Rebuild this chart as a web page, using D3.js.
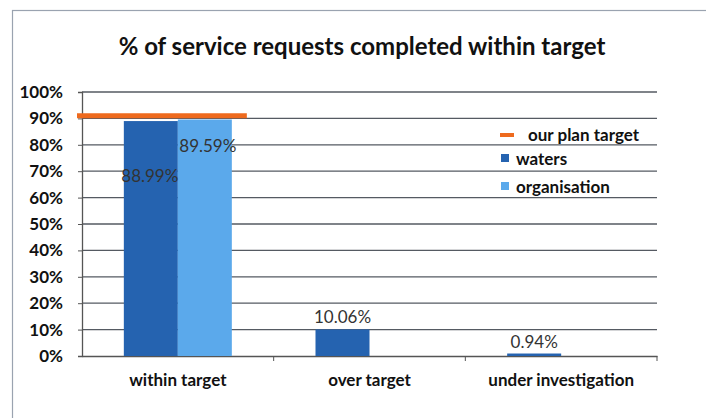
<!DOCTYPE html>
<html><head><meta charset="utf-8">
<script src="https://cdn.jsdelivr.net/npm/d3@7"></script>
<style>body{margin:0;background:#fff}svg{display:block}</style>
</head><body>
<script>
const categories = ["within target","over target","under investigation"];
const seriesNames = ["waters","organisation"];
const waters = [0.8899, 0.1006, 0.0094];
const organisation = [0.8959, null, null];
const planTarget = 0.91;
const yTicks = [0,0.1,0.2,0.3,0.4,0.5,0.6,0.7,0.8,0.9,1.0];
const labels = {waters:["88.99%","10.06%","0.94%"], organisation:["89.59%",null,null]};

const W=706,H=418;
const svg=d3.select("body").append("svg").attr("width",W).attr("height",H);
const colors={waters:"#2563b0",organisation:"#5ba9eb"};
const font="Lato, 'Open Sans', sans-serif";

// frame
svg.append("rect").attr("x",12.5).attr("y",10.5).attr("width",W).attr("height",H)
  .attr("fill","none").attr("stroke","#9aa3b0").attr("stroke-width",1.2);

const m={l:82,r:657,t:92,b:356};
const x=d3.scaleBand().domain(categories).range([m.l,m.r]);
const y=d3.scaleLinear().domain([0,1]).range([m.b,m.t]);
const x1=d3.scaleBand().domain(seriesNames).range([0,108]);

svg.append("text").attr("x",362).attr("y",55).attr("text-anchor","middle")
  .attr("font-family",font).attr("font-weight",700).attr("font-size",24).attr("fill","#111")
  .text("% of service requests completed within target");

// gridlines
svg.append("g").selectAll("line").data(yTicks.slice(1)).join("line")
  .attr("x1",m.l).attr("x2",m.r).attr("y1",d=>y(d)).attr("y2",d=>y(d))
  .attr("stroke","#555a62").attr("stroke-width",1.3);

// y axis
const ya=svg.append("g").attr("transform",`translate(${m.l},0)`)
  .call(d3.axisLeft(y).tickValues(yTicks).tickFormat(d3.format(".0%")).tickSize(4).tickPadding(15));
ya.select(".domain").attr("stroke","#555").attr("stroke-width",1.3);
ya.selectAll("line").attr("stroke","#555");
ya.selectAll("text").attr("font-family",font).attr("font-weight",700).attr("font-size",17).attr("fill","#111");

// x axis
const xa=svg.append("g").attr("transform",`translate(0,${m.b})`)
  .call(d3.axisBottom(x).tickSize(0).tickPadding(18));
xa.select(".domain").attr("stroke","#555").attr("stroke-width",1.3);
xa.selectAll("text").attr("font-family",font).attr("font-weight",700).attr("font-size",17).attr("fill","#111");
svg.append("g").selectAll("line").data(categories.slice(1).concat([null])).join("line")
  .attr("x1",d=>d?x(d):m.r).attr("x2",d=>d?x(d):m.r).attr("y1",m.b).attr("y2",m.b+5)
  .attr("stroke","#555");

// bars
const data=[];
categories.forEach((c,i)=>{
  data.push({c,s:"waters",v:waters[i],l:labels.waters[i]});
  if(organisation[i]!=null) data.push({c,s:"organisation",v:organisation[i],l:labels.organisation[i]});
});
const bx=d=>x(d.c)+x.bandwidth()/2-54+x1(d.s);
svg.append("g").selectAll("rect").data(data).join("rect")
  .attr("x",bx).attr("width",x1.bandwidth()).attr("y",d=>y(d.v)).attr("height",d=>m.b-y(d.v))
  .attr("fill",d=>colors[d.s]);

// target line
svg.append("line").attr("x1",m.l-5).attr("x2",x(categories[0])+x.bandwidth()*0.86)
  .attr("y1",y(planTarget)).attr("y2",y(planTarget)).attr("stroke","#ee6a1e").attr("stroke-width",5);

// data labels
const lblOff={"within target|waters":-y(0.8899)+182,"within target|organisation":-y(0.8959)+152};
svg.append("g").selectAll("text").data(data).join("text")
  .attr("x",d=>bx(d)+x1.bandwidth()/2+(d.c==="within target"?(d.s==="waters"?-1:3):0))
  .attr("y",d=>{const k=d.c+"|"+d.s; return k in lblOff? y(d.v)+lblOff[k] : y(d.v)-6;})
  .attr("text-anchor","middle").attr("font-family",font).attr("font-size",17).attr("fill","#333")
  .text(d=>d.l);

// legend
const lg=svg.append("g").attr("font-family",font).attr("font-weight",700).attr("font-size",17).attr("fill","#111");
lg.append("line").attr("x1",500).attr("x2",514).attr("y1",135).attr("y2",135).attr("stroke","#ee6a1e").attr("stroke-width",4);
lg.append("text").attr("x",528).attr("y",141).text("our plan target");
lg.append("rect").attr("x",501).attr("y",154).attr("width",8).attr("height",8).attr("fill",colors.waters);
lg.append("text").attr("x",516).attr("y",165).text("waters");
lg.append("rect").attr("x",501).attr("y",182).attr("width",8).attr("height",8).attr("fill",colors.organisation);
lg.append("text").attr("x",516).attr("y",193).text("organisation");
</script>
</body></html>
